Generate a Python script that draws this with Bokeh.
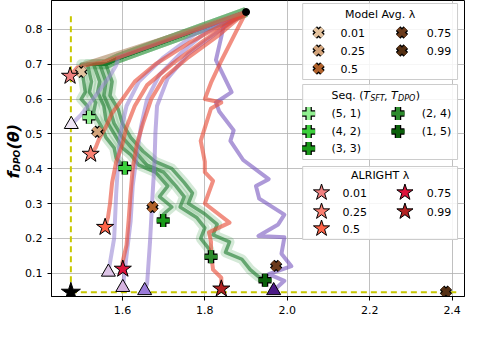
import math
from bokeh.plotting import figure
from bokeh.layouts import row
from bokeh.models import Range1d, FixedTicker, PrintfTickFormatter
from bokeh.core.properties import value
from bokeh.embed import file_html
from bokeh.resources import INLINE

# ---------------- data ----------------
start_pt = (1.90, 0.85)
ref_pt = (1.475, 0.045)
frontier_top = 0.845
frontier_right = 2.41

# Model averaging (X markers)
avg_labels = ["0.01", "0.25", "0.5", "0.75", "0.99"]
avg_x = [1.500, 1.539, 1.673, 1.973, 2.385]
avg_y = [0.678, 0.506, 0.290, 0.121, 0.047]
avg_colors = ["#e3c29e", "#d2a37a", "#b0612b", "#6b3b1c", "#553013"]

# Sequential (plus markers)
seq_labels = ["(5, 1)", "(4, 2)", "(3, 3)", "(2, 4)", "(1, 5)"]
seq_x = [1.519, 1.606, 1.699, 1.815, 1.946]
seq_y = [0.548, 0.402, 0.251, 0.147, 0.080]
seq_colors = ["#90ee90", "#3ccf3c", "#1a9a1a", "#2d8a2d", "#0a600a"]
seq_paths_x = [
    [1.90, 1.59, 1.56, 1.50, 1.505, 1.51, 1.50, 1.515, 1.519],
    [1.90, 1.59, 1.56, 1.515, 1.525, 1.52, 1.535, 1.53, 1.55, 1.56, 1.58, 1.585, 1.606],
    [1.90, 1.59, 1.56, 1.53, 1.545, 1.54, 1.555, 1.56, 1.58, 1.60, 1.62, 1.64, 1.68, 1.71, 1.69, 1.72, 1.70, 1.699],
    [1.90, 1.59, 1.56, 1.545, 1.56, 1.555, 1.57, 1.58, 1.60, 1.63, 1.66, 1.70, 1.73, 1.75, 1.74, 1.78, 1.80, 1.79, 1.81, 1.815],
    [1.90, 1.59, 1.56, 1.56, 1.575, 1.57, 1.59, 1.60, 1.62, 1.65, 1.68, 1.72, 1.75, 1.77, 1.76, 1.80, 1.83, 1.82, 1.86, 1.85, 1.89, 1.91, 1.93, 1.946],
]
seq_paths_y = [
    [0.85, 0.717, 0.70, 0.70, 0.66, 0.62, 0.60, 0.58, 0.548],
    [0.85, 0.717, 0.70, 0.70, 0.65, 0.62, 0.59, 0.56, 0.52, 0.49, 0.46, 0.43, 0.402],
    [0.85, 0.717, 0.70, 0.70, 0.65, 0.62, 0.58, 0.54, 0.50, 0.46, 0.44, 0.41, 0.39, 0.35, 0.32, 0.29, 0.27, 0.251],
    [0.85, 0.717, 0.70, 0.70, 0.65, 0.61, 0.57, 0.53, 0.49, 0.45, 0.41, 0.39, 0.35, 0.32, 0.29, 0.26, 0.23, 0.20, 0.17, 0.147],
    [0.85, 0.717, 0.70, 0.70, 0.65, 0.61, 0.57, 0.53, 0.49, 0.45, 0.42, 0.40, 0.36, 0.33, 0.30, 0.27, 0.24, 0.21, 0.19, 0.16, 0.14, 0.11, 0.09, 0.080],
]

# ALRIGHT (stars)
alr_labels = ["0.01", "0.25", "0.5", "0.75", "0.99"]
alr_x = [1.473, 1.523, 1.558, 1.601, 1.840]
alr_y = [0.666, 0.442, 0.232, 0.112, 0.055]
alr_colors = ["#f08080", "#fa8072", "#ff6347", "#dc143c", "#b22222"]
alr_paths_x = [
    [1.90, 1.59, 1.55, 1.52, 1.49, 1.473],
    [1.90, 1.76, 1.68, 1.63, 1.60, 1.575, 1.56, 1.545, 1.535, 1.523],
    [1.90, 1.80, 1.72, 1.66, 1.63, 1.61, 1.60, 1.585, 1.575, 1.57, 1.565, 1.558],
    [1.90, 1.83, 1.76, 1.70, 1.67, 1.65, 1.635, 1.625, 1.62, 1.615, 1.61, 1.60, 1.601],
    [1.90, 1.87, 1.84, 1.815, 1.80, 1.84, 1.815, 1.79, 1.80, 1.80, 1.82, 1.80, 1.86, 1.81, 1.815, 1.815, 1.82, 1.84, 1.84],
]
alr_paths_y = [
    [0.85, 0.72, 0.705, 0.70, 0.69, 0.666],
    [0.85, 0.76, 0.70, 0.65, 0.60, 0.56, 0.52, 0.49, 0.46, 0.442],
    [0.85, 0.77, 0.70, 0.64, 0.58, 0.52, 0.47, 0.42, 0.36, 0.30, 0.26, 0.232],
    [0.85, 0.78, 0.72, 0.66, 0.60, 0.53, 0.47, 0.40, 0.33, 0.25, 0.18, 0.13, 0.112],
    [0.85, 0.78, 0.71, 0.647, 0.60, 0.59, 0.573, 0.48, 0.42, 0.39, 0.365, 0.30, 0.245, 0.217, 0.19, 0.156, 0.11, 0.087, 0.055],
]

# Other method (triangles, not in legend)
tri_x = [1.476, 1.566, 1.601, 1.654, 1.967]
tri_y = [0.527, 0.103, 0.059, 0.050, 0.050]
tri_colors = ["#efe6f6", "#dcc3e6", "#d6b4e0", "#9a7ad8", "#4b1a86"]
tri_line_colors = ["#9d8ad6", "#9180d2", "#8f78d0", "#8a70cc", "#6a45b8"]
tri_paths_x = [
    [1.90, 1.59, 1.585, 1.57, 1.535, 1.50, 1.476],
    [1.90, 1.78, 1.70, 1.64, 1.61, 1.595, 1.59, 1.585, 1.58, 1.566],
    [1.90, 1.80, 1.74, 1.69, 1.66, 1.645, 1.635, 1.625, 1.62, 1.61, 1.601],
    [1.90, 1.84, 1.76, 1.71, 1.684, 1.68, 1.678, 1.672, 1.667, 1.66, 1.654],
    [1.90, 1.846, 1.827, 1.865, 1.827, 1.835, 1.87, 1.862, 1.893, 1.955, 1.924, 1.932, 1.993, 1.978, 1.93, 1.993, 1.986, 2.01, 1.955, 1.993, 1.967],
]
tri_paths_y = [
    [0.85, 0.72, 0.697, 0.667, 0.61, 0.555, 0.527],
    [0.85, 0.79, 0.72, 0.65, 0.58, 0.50, 0.425, 0.33, 0.20, 0.103],
    [0.85, 0.79, 0.73, 0.67, 0.60, 0.52, 0.44, 0.35, 0.25, 0.15, 0.059],
    [0.85, 0.80, 0.73, 0.66, 0.58, 0.50, 0.42, 0.30, 0.19, 0.07, 0.050],
    [0.85, 0.81, 0.712, 0.62, 0.59, 0.564, 0.51, 0.48, 0.425, 0.37, 0.35, 0.314, 0.268, 0.24, 0.207, 0.203, 0.156, 0.12, 0.097, 0.078, 0.050],
]

x_ticks = [1.6, 1.8, 2.0, 2.2, 2.4]
y_ticks = [0.1, 0.2, 0.3, 0.4, 0.5, 0.6, 0.7, 0.8]

# ---------------- figure ----------------
FONT = "DejaVu Sans"
LABW = 22
W, H = 466 - LABW, 326
BL, BR, BT, BB = 26, 2, 0, 30
FW, FH = W - BL - BR, H - BT - BB

p = figure(width=W, height=H, output_backend="svg", toolbar_location=None,
           x_range=Range1d(1.428, 2.43), y_range=Range1d(0.033, 0.883),
           min_border_left=BL, min_border_right=BR, min_border_top=BT, min_border_bottom=BB)
p.extra_x_ranges = {"lx": Range1d(0, FW)}
p.extra_y_ranges = {"ly": Range1d(FH, 0)}
p.outline_line_color = "black"
p.outline_line_width = 1
for ax in (p.xaxis[0], p.yaxis[0]):
    ax.major_label_text_font = FONT
    ax.major_label_text_font_size = "11px"
    ax.major_label_text_color = "black"
    ax.axis_line_color = "black"
    ax.major_tick_line_color = "black"
    ax.major_tick_in = 0
    ax.major_tick_out = 4
    ax.minor_tick_line_color = None
    ax.formatter = PrintfTickFormatter(format="%.1f")
p.xaxis.ticker = FixedTicker(ticks=x_ticks)
p.yaxis.ticker = FixedTicker(ticks=y_ticks)
p.xgrid.ticker = FixedTicker(ticks=x_ticks)
p.ygrid.ticker = FixedTicker(ticks=y_ticks)
p.grid.grid_line_color = "#b0b0b0"
p.grid.grid_line_alpha = 0.8

# frontier (yellow dashed)
p.line([ref_pt[0], ref_pt[0]], [ref_pt[1], frontier_top], line_color="#c8c800",
       line_width=2, line_dash="6 4")
p.line([ref_pt[0], frontier_right], [ref_pt[1], ref_pt[1]], line_color="#c8c800",
       line_width=2, line_dash="6 4")

# trajectories
for xs, ys in zip(seq_paths_x, seq_paths_y):
    p.line(xs, ys, line_color="#3a9a4a", line_alpha=0.22, line_width=10, line_join="round")
for xs, ys in zip(seq_paths_x, seq_paths_y):
    p.line(xs, ys, line_color="#1b7a2c", line_alpha=0.6, line_width=3.5, line_join="round")
for xs, ys, c in zip(tri_paths_x, tri_paths_y, tri_line_colors):
    p.line(xs, ys, line_color=c, line_alpha=0.55, line_width=4, line_join="round")
for xs, ys in zip(alr_paths_x, alr_paths_y):
    p.line(xs, ys, line_color="#e94a36", line_alpha=0.62, line_width=4, line_join="round")
p.line([start_pt[0], avg_x[0]], [start_pt[1], avg_y[0] + 0.02], line_color="#a8825a",
       line_alpha=0.6, line_width=4)

# markers
p.scatter([start_pt[0]], [start_pt[1]], marker="circle", size=7, color="black")
p.scatter([ref_pt[0]], [ref_pt[1]], marker="star", size=20, color="black")
p.scatter(tri_x, tri_y, marker="triangle", size=14, fill_color=tri_colors,
          line_color="black", line_width=1)
p.scatter(avg_x, avg_y, marker="x", size=11, line_color="black", line_width=6.5)
p.scatter(avg_x, avg_y, marker="x", size=11, line_color=avg_colors, line_width=4)
p.scatter(seq_x, seq_y, marker="cross", size=13, line_color="black", line_width=6.5)
p.scatter(seq_x, seq_y, marker="cross", size=13, line_color=seq_colors, line_width=4)
p.scatter(alr_x, alr_y, marker="star", size=18, fill_color=alr_colors,
          line_color="black", line_width=1)

# ---------------- legends (drawn in frame pixel coordinates) ----------------
LX = dict(x_range_name="lx", y_range_name="ly")
TXT = dict(text_font=value(FONT), text_font_size="11px", text_color="black",
           text_baseline="middle", **LX)

box_left, box_right = 253, 409
boxes = [(3, 79), (84, 159), (166, 239)]
p.quad(left=[box_left] * 3, right=[box_right] * 3,
       top=[b[0] for b in boxes], bottom=[b[1] for b in boxes],
       fill_color="white", fill_alpha=0.85, line_color="#cccccc", line_width=1, **LX)

# Model Avg legend
rows = [32, 50, 68]
mx = [269, 269, 269, 353, 353]
my = [rows[0], rows[1], rows[2], rows[0], rows[1]]
tx = [291, 291, 291, 378, 378]
p.scatter(mx, my, marker="x", size=11, line_color="black", line_width=6.5, **LX)
p.scatter(mx, my, marker="x", size=11, line_color=avg_colors, line_width=4, **LX)
p.text(tx, my, text=avg_labels, text_align="left", **TXT)
p.text([331], [14], text=["Model Avg. λ"], text_align="center", **TXT)

# Seq legend
rows = [113, 131, 148]
mx = [259, 259, 259, 349, 349]
my = [rows[0], rows[1], rows[2], rows[0], rows[1]]
tx = [282, 282, 282, 373, 373]
p.scatter(mx, my, marker="cross", size=13, line_color="black", line_width=6.5, **LX)
p.scatter(mx, my, marker="cross", size=13, line_color=seq_colors, line_width=4, **LX)
p.text(tx, my, text=seq_labels, text_align="left", **TXT)
ty = 95
p.text([282], [ty], text=["Seq. ("], text_align="left", **TXT)
p.text([314, 342], [ty, ty], text=["T", "T"], text_align="left",
       text_font_style="italic", **TXT)
p.text([321, 349], [ty + 3, ty + 3], text=["SFT", "DPO"], text_align="left",
       text_font=value(FONT), text_font_size="8px", text_font_style="italic",
       text_baseline="middle", **LX)
p.text([335, 367], [ty, ty], text=[",", ")"], text_align="left", **TXT)

# ALRIGHT legend
rows = [192, 211, 228]
mx = [272, 272, 272, 356, 356]
my = [rows[0], rows[1], rows[2], rows[0], rows[1]]
tx = [293, 293, 293, 378, 378]
p.scatter(mx, my, marker="star", size=17, fill_color=alr_colors, line_color="black",
          line_width=1, **LX)
p.text(tx, my, text=alr_labels, text_align="left", **TXT)
p.text([331], [175], text=["ALRIGHT λ"], text_align="center", **TXT)

# ---------------- y label (separate narrow figure) ----------------
q = figure(width=LABW, height=H, output_backend="svg", toolbar_location=None,
           x_range=Range1d(0, LABW), y_range=Range1d(0, FH),
           x_axis_location=None, y_axis_location=None,
           min_border_left=0, min_border_right=0, min_border_top=BT, min_border_bottom=BB)
q.grid.visible = False
q.outline_line_color = None
q.background_fill_alpha = 0
q.border_fill_alpha = 0
ylab = dict(angle=math.pi / 2, text_font=value(FONT), text_font_style="bold italic",
            text_color="black", text_align="left", text_baseline="alphabetic")
q.text([13], [118], text=["f"], text_font_size="16px", **ylab)
q.text([16], [125], text=["DPO"], text_font_size="9px", **ylab)
q.text([13], [147], text=["(θ)"], text_font_size="16px", **ylab)

layout = row(q, p, spacing=0)
open("out.html", "w").write(file_html(layout, INLINE))
